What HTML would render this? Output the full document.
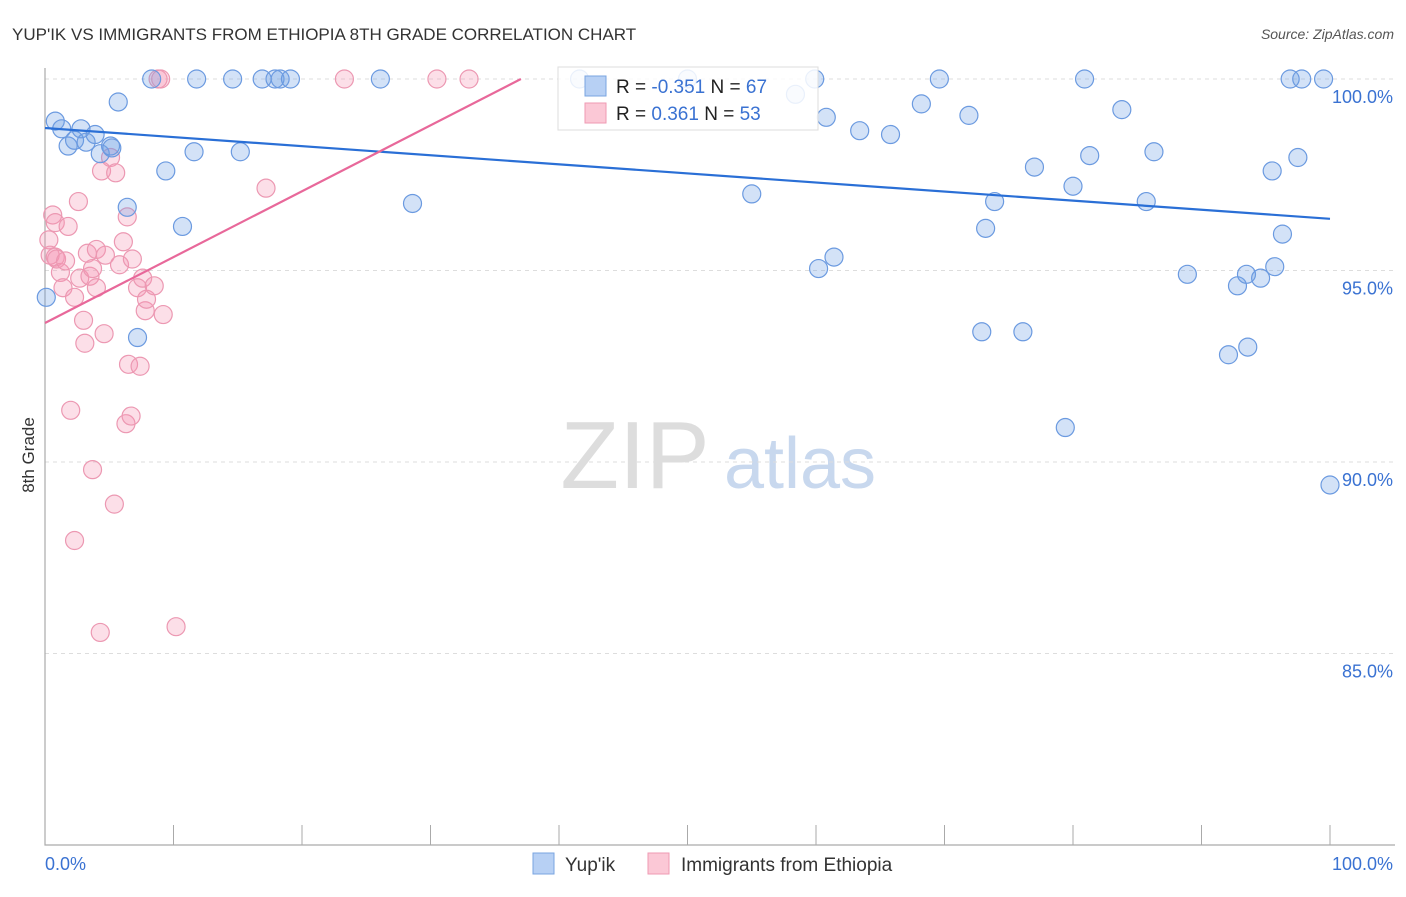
<!DOCTYPE html>
<html><head><meta charset="utf-8"><style>
body{margin:0;background:#fff;font-family:"Liberation Sans",sans-serif;}
svg text{font-family:"Liberation Sans",sans-serif;}
</style></head><body>
<svg id="chart" width="1406" height="892" xmlns="http://www.w3.org/2000/svg">
<text x="12" y="40" font-size="17" fill="#333">YUP'IK VS IMMIGRANTS FROM ETHIOPIA 8TH GRADE CORRELATION CHART</text>
<text x="1394" y="39" font-size="14" fill="#555" text-anchor="end" font-style="italic">Source: ZipAtlas.com</text>
<g>
<text x="635" y="488" font-size="96" fill="#ddd" text-anchor="middle" font-family="Liberation Serif">ZIP</text>
<text x="800" y="488" font-size="72" fill="#c8d8ee" text-anchor="middle">atlas</text>
</g>
<g id="grid"></g><g id="axes"></g><g id="marks"></g><g id="trends"></g>
<g>
<rect x="558" y="67" width="260" height="63" fill="rgba(255,255,255,0.85)" stroke="#ddd"/>
<rect x="585" y="76" width="21" height="20" fill="#b7d0f4" stroke="#7aa4e0"/>
<rect x="585" y="103" width="21" height="20" fill="#fbc8d6" stroke="#ef9ab3"/>
<text x="616" y="93" font-size="19" fill="#222">R = <tspan fill="#3a72d2">-0.351</tspan>   N = <tspan fill="#3a72d2">67</tspan></text>
<text x="616" y="120" font-size="19" fill="#222">R =   <tspan fill="#3a72d2">0.361</tspan>   N = <tspan fill="#3a72d2">53</tspan></text>
</g>
<g>
<rect x="533" y="853" width="21" height="21" fill="#b7d0f4" stroke="#7aa4e0"/>
<text x="565" y="871" font-size="19" fill="#333">Yup'ik</text>
<rect x="648" y="853" width="21" height="21" fill="#fbc8d6" stroke="#ef9ab3"/>
<text x="681" y="871" font-size="19" fill="#333">Immigrants from Ethiopia</text>
</g>
<text transform="translate(34,455) rotate(-90)" font-size="17" fill="#333" text-anchor="middle">8th Grade</text>
</svg>
<script>
const yTicks=[100,95,90,85];
const yTickLabels=["100.0%","95.0%","90.0%","85.0%"];
const xTickLabels=["0.0%","100.0%"];
const blueX=[0.1,0.8,1.3,1.8,2.3,2.8,3.2,3.9,4.3,5.1,5.2,5.7,6.4,7.2,8.3,9.4,10.7,11.6,11.8,14.6,15.2,16.9,17.9,18.3,19.1,26.1,28.6,41.6,50,55,58.4,59.9,60.2,60.8,61.4,63.4,65.8,68.2,69.6,71.9,72.9,73.2,73.9,76.1,77.0,79.4,80.0,80.9,81.3,83.8,85.7,86.3,88.9,92.1,92.8,93.5,93.6,94.6,95.5,95.7,96.3,96.9,97.5,97.8,99.5,100];
const blueY=[94.3,98.9,98.7,98.25,98.4,98.7,98.35,98.55,98.05,98.25,98.2,99.4,96.65,93.25,100,97.6,96.15,98.1,100,100,98.1,100,100,100,100,100,96.75,100,100,97.0,99.6,100,95.05,99.0,95.35,98.65,98.55,99.35,100,99.05,93.4,96.1,96.8,93.4,97.7,90.9,97.2,100,98.0,99.2,96.8,98.1,94.9,92.8,94.6,94.9,93.0,94.8,97.6,95.1,95.95,100,97.95,100,100,89.4];
const pinkX=[8.8,9,23.3,30.5,33,0.3,0.4,0.6,0.8,0.8,0.9,1.2,1.4,1.6,1.8,2.0,2.3,2.3,2.6,2.7,3.0,3.1,3.3,3.5,3.7,3.7,4.0,4.0,4.3,4.4,4.6,4.7,5.1,5.4,5.5,5.8,6.1,6.3,6.4,6.5,6.7,6.8,7.2,7.4,7.6,7.8,7.9,8.5,9.2,10.2,17.2];
const pinkY=[100,100,100,100,100,95.8,95.4,96.45,96.25,95.35,95.3,94.95,94.55,95.25,96.15,91.35,87.95,94.3,96.8,94.8,93.7,93.1,95.45,94.85,89.8,95.05,95.55,94.55,85.55,97.6,93.35,95.4,97.95,88.9,97.55,95.15,95.75,91.0,96.4,92.55,91.2,95.3,94.55,92.5,94.8,93.95,94.25,94.6,93.85,85.7,97.15];
const blueTrend=[98.72,96.35];
const pinkTrend=[93.63,0.172];
const sx=v=>45+v*12.85, sy=v=>79+(100-v)*38.3;
const NS="http://www.w3.org/2000/svg";
function mk(tag,attrs,parent){const e=document.createElementNS(NS,tag);for(const k in attrs)e.setAttribute(k,attrs[k]);parent.appendChild(e);return e;}
const grid=document.getElementById('grid'),axes=document.getElementById('axes'),marks=document.getElementById('marks'),trends=document.getElementById('trends');
yTicks.forEach((t,i)=>{
 const l=mk('line',{x1:45,x2:1395,y1:sy(t),y2:sy(t),stroke:'#ddd','stroke-dasharray':'4,4'},grid);
 
 
 const tx=mk('text',{x:1393,y:sy(t)+24,'font-size':18,fill:'#3a72d2','text-anchor':'end'},axes);
 tx.textContent=yTickLabels[i];
 
 
});
const ax=mk('path',{d:'M45,68 V845 H1395',fill:'none',stroke:'#aaa','stroke-width':1.2},axes);


for(let i=0;i<=10;i++){
 const t=mk('line',{x1:sx(i*10),x2:sx(i*10),y1:825,y2:845,stroke:'#aaa'},axes);
 
 
}
const xl0=mk('text',{x:45,y:870,'font-size':18,fill:'#3a72d2'},axes);xl0.textContent=xTickLabels[0];


const xl1=mk('text',{x:1393,y:870,'font-size':18,fill:'#3a72d2','text-anchor':'end'},axes);xl1.textContent=xTickLabels[1];


pinkX.forEach((x,i)=>{
 const c=mk('circle',{cx:sx(x),cy:sy(pinkY[i]),r:9,fill:'rgba(245,150,180,0.3)',stroke:'#ec98b2','stroke-width':1.2},marks);
 
 
});
blueX.forEach((x,i)=>{
 const c=mk('circle',{cx:sx(x),cy:sy(blueY[i]),r:9,fill:'rgba(110,160,230,0.3)',stroke:'#6b9ae0','stroke-width':1.2},marks);
 
 
});
const bl=mk('line',{x1:sx(0),y1:sy(blueTrend[0]),x2:sx(100),y2:sy(blueTrend[1]),stroke:'#2a6fd6','stroke-width':2.2},trends);


const pxEnd=(100-pinkTrend[0])/pinkTrend[1];
const pl=mk('line',{x1:sx(0),y1:sy(pinkTrend[0]),x2:sx(pxEnd),y2:sy(100),stroke:'#e8689a','stroke-width':2.2},trends);


</script>
</body></html>
